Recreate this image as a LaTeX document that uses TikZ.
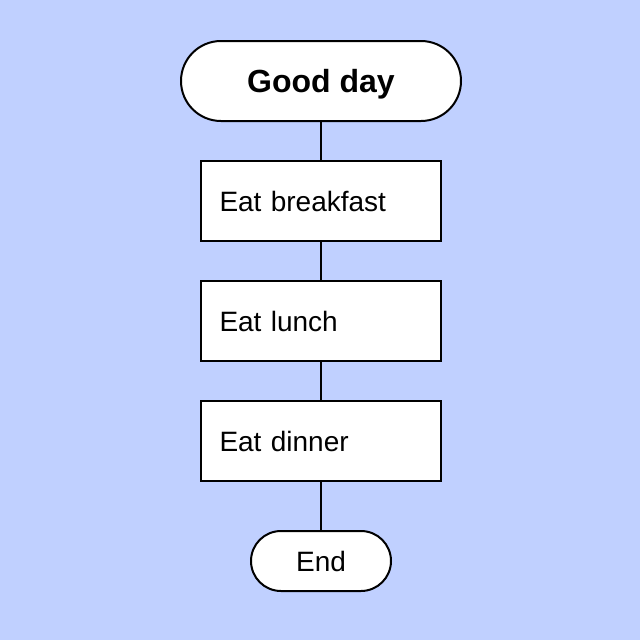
\documentclass[tikz,border=0pt]{standalone}
\usepackage{fontspec}
\setmainfont{Liberation Sans}
\definecolor{bgc}{HTML}{C0D0FF}
\begin{document}
\begin{tikzpicture}[x=1pt,y=-1pt,
  every node/.style={line width=2pt, draw=black, fill=white},
  terminal/.style={rounded corners=#1, inner sep=0pt},
  stepbox/.style={rectangle, minimum width=240pt, minimum height=80pt, inner xsep=18.5pt, inner ysep=0pt, text width=203pt, align=left, font=\fontsize{28}{32}\selectfont},
  link/.style={line width=2pt}]
\fill[bgc] (0,0) rectangle (640,640);
\useasboundingbox (0,0) rectangle (640,640);
\node[terminal=40pt, minimum width=280pt, minimum height=80pt, text depth=0pt, font=\bfseries\fontsize{32}{36}\selectfont] (start) at (321,81) {Good day};
\node[stepbox] (b) at (321,201) {Eat breakfast};
\node[stepbox] (l) at (321,321) {Eat lunch};
\node[stepbox] (d) at (321,441) {Eat dinner};
\node[terminal=30pt, minimum width=140pt, minimum height=60pt, font=\fontsize{28}{32}\selectfont] (e) at (321,561) {End};
\draw[link] (start) -- (b);
\draw[link] (b) -- (l);
\draw[link] (l) -- (d);
\draw[link] (d) -- (e);
\end{tikzpicture}
\end{document}
